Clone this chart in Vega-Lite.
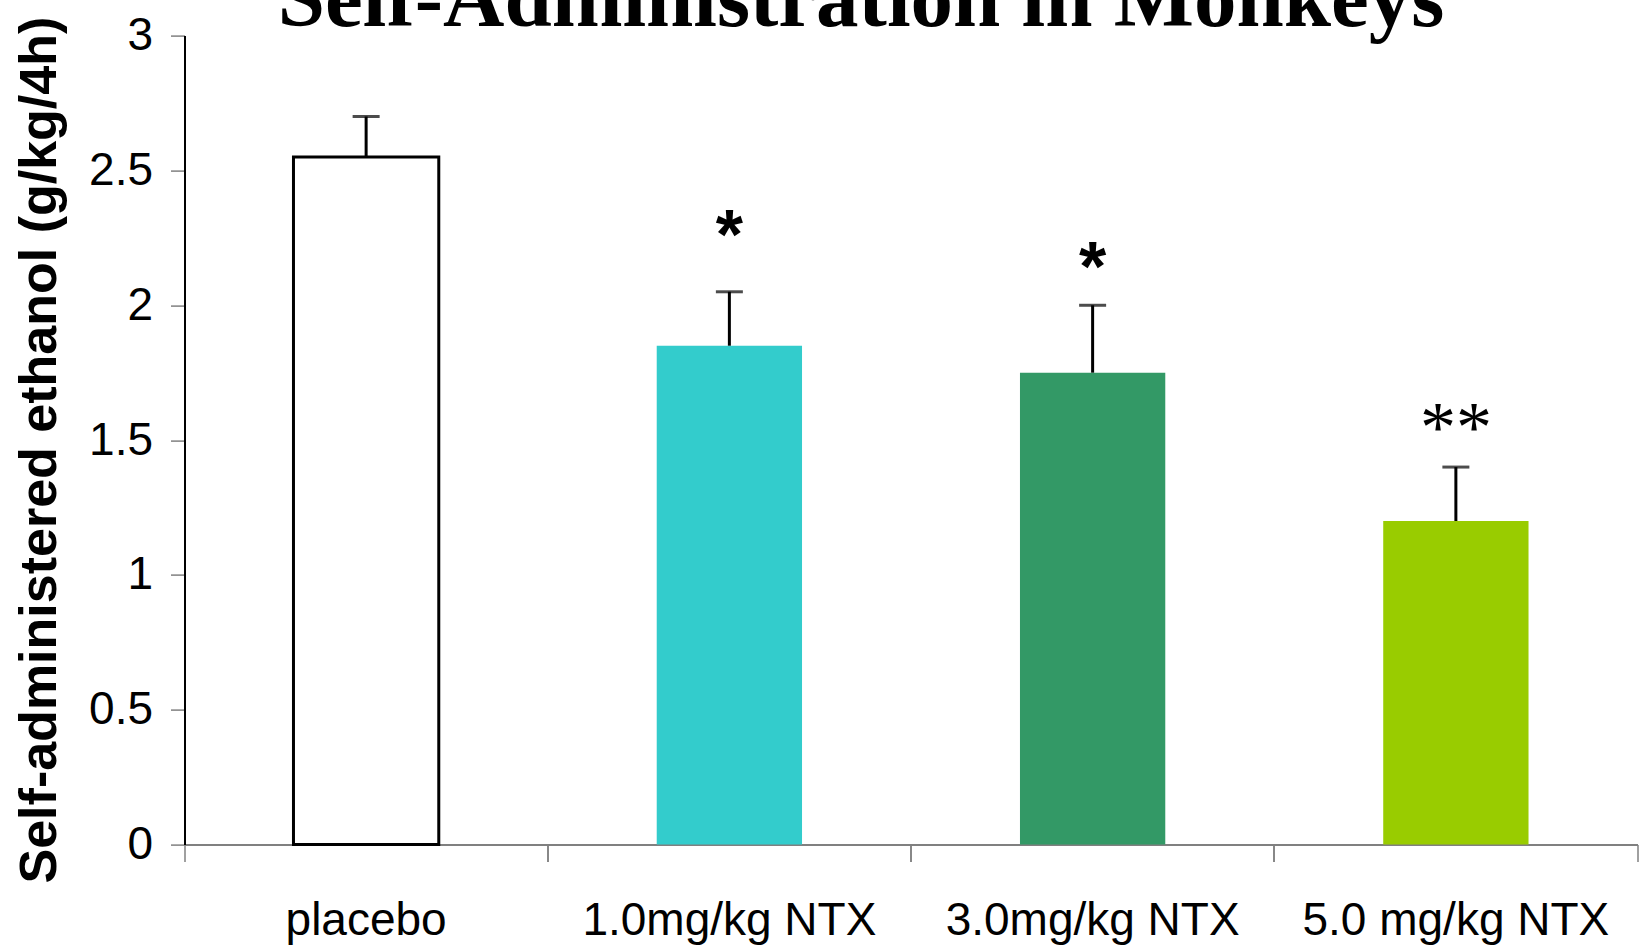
{
  "$schema": "https://vega.github.io/schema/vega-lite/v6.json",
  "width": 1453,
  "height": 809,
  "autosize": {"type": "none"},
  "padding": {"left": 184.5, "top": 35.6, "right": 6.5, "bottom": 105.4},
  "background": "white",
  "title": {
    "text": "Self-Administration in Monkeys",
    "font": "Liberation Serif",
    "fontSize": 85,
    "fontWeight": "bold",
    "color": "black",
    "anchor": "middle",
    "frame": "group",
    "baseline": "alphabetic",
    "offset": 0,
    "dx": -50,
    "dy": 98
  },
  "config": {"view": {"stroke": null}, "font": "Liberation Sans"},
  "data": {
    "values": [
      {"group": "placebo", "mean": 2.55, "upper": 2.70, "sig": "", "sig_y": null},
      {"group": "1.0mg/kg NTX", "mean": 1.85, "upper": 2.05, "sig": "*", "sig_y": 2.25},
      {"group": "3.0mg/kg NTX", "mean": 1.75, "upper": 2.00, "sig": "*", "sig_y": 2.13},
      {"group": "5.0 mg/kg NTX", "mean": 1.20, "upper": 1.40, "sig": "**", "sig_y": 1.54}
    ]
  },
  "resolve": {"axis": {"x": "independent"}},
  "layer": [
    {
      "mark": {"type": "bar", "strokeWidth": 3},
      "encoding": {
        "x": {
          "field": "group", "type": "nominal", "sort": null,
          "scale": {"paddingInner": 0.6, "paddingOuter": 0.3},
          "axis": {
            "orient": "bottom", "title": null, "labelAngle": 0, "labelLimit": 0,
            "labelFont": "Liberation Sans", "labelFontSize": 46, "labelColor": "black",
            "labelPadding": 37, "tickSize": 17, "tickColor": "#808080", "tickWidth": 1.5,
            "bandPosition": -0.75, "domainColor": "#808080", "domainWidth": 2
          }
        },
        "y": {
          "field": "mean", "type": "quantitative",
          "title": "Self-administered ethanol (g/kg/4h)",
          "scale": {"domain": [0, 3], "nice": false},
          "axis": {
            "values": [0, 0.5, 1, 1.5, 2, 2.5, 3], "format": "~g", "grid": false,
            "labelFont": "Liberation Sans", "labelFontSize": 46, "labelColor": "black",
            "labelPadding": 18, "tickSize": 14, "tickColor": "#808080", "tickWidth": 1.5,
            "domainColor": "black", "domainWidth": 2,
            "titleFont": "Liberation Sans", "titleFontSize": 52, "titleFontWeight": "bold",
            "titleColor": "black", "titlePadding": 22, "titleY": 414
          }
        },
        "fill": {
          "field": "group", "type": "nominal", "legend": null,
          "scale": {
            "domain": ["placebo", "1.0mg/kg NTX", "3.0mg/kg NTX", "5.0 mg/kg NTX"],
            "range": ["#ffffff", "#33cccc", "#339966", "#99cc00"]
          }
        },
        "stroke": {
          "field": "group", "type": "nominal", "legend": null,
          "scale": {
            "domain": ["placebo", "1.0mg/kg NTX", "3.0mg/kg NTX", "5.0 mg/kg NTX"],
            "range": ["#000000", "transparent", "transparent", "transparent"]
          }
        }
      }
    },
    {
      "mark": {"type": "rule", "strokeWidth": 3, "color": "black"},
      "encoding": {
        "x": {
          "field": "group", "type": "nominal", "sort": null,
          "axis": {
            "orient": "bottom", "title": null, "labels": false, "domain": false,
            "tickSize": 17, "tickColor": "#808080", "tickWidth": 1.5, "bandPosition": 1.75
          }
        },
        "y": {"field": "mean", "type": "quantitative", "title": "Self-administered ethanol (g/kg/4h)"},
        "y2": {"field": "upper"}
      }
    },
    {
      "mark": {"type": "tick", "size": 27, "thickness": 3, "color": "black"},
      "encoding": {
        "x": {"field": "group", "type": "nominal", "sort": null, "axis": null},
        "y": {"field": "upper", "type": "quantitative", "title": "Self-administered ethanol (g/kg/4h)"}
      }
    },
    {
      "transform": [{"filter": "datum.sig == '*'"}],
      "mark": {"type": "text", "font": "Liberation Sans", "fontWeight": "bold", "fontSize": 70, "color": "black", "baseline": "middle", "align": "center"},
      "encoding": {
        "x": {"field": "group", "type": "nominal", "sort": null, "axis": null},
        "y": {"field": "sig_y", "type": "quantitative", "title": "Self-administered ethanol (g/kg/4h)"},
        "text": {"field": "sig"}
      }
    },
    {
      "transform": [{"filter": "datum.sig == '**'"}],
      "mark": {"type": "text", "font": "Liberation Serif", "fontWeight": "normal", "fontSize": 72, "color": "black", "baseline": "middle", "align": "center"},
      "encoding": {
        "x": {"field": "group", "type": "nominal", "sort": null, "axis": null},
        "y": {"field": "sig_y", "type": "quantitative", "title": "Self-administered ethanol (g/kg/4h)"},
        "text": {"field": "sig"}
      }
    }
  ]
}
